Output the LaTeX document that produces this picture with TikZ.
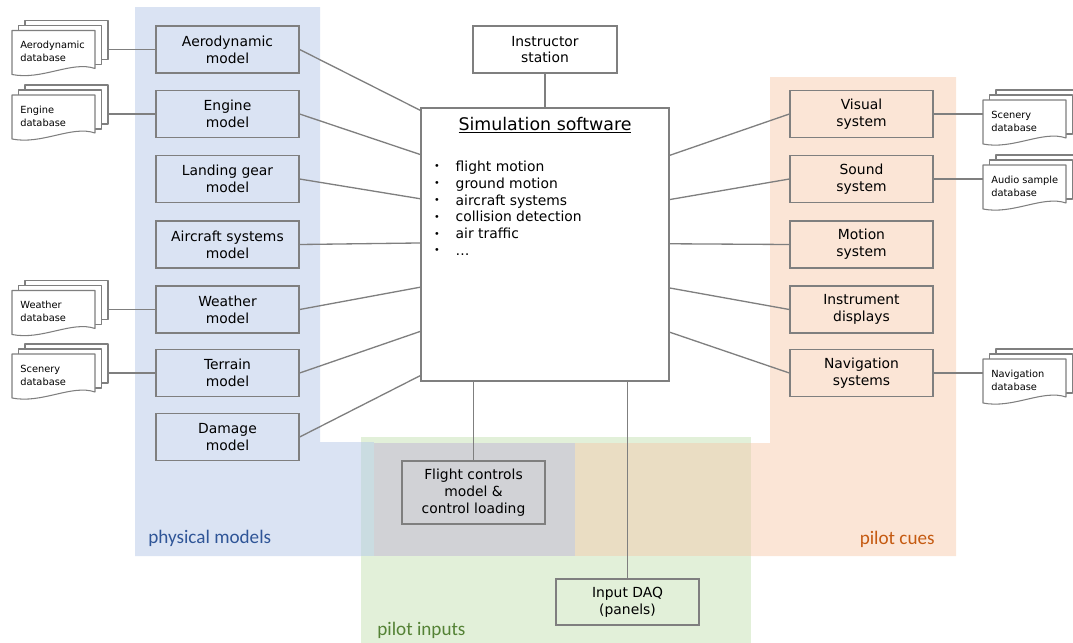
\documentclass[tikz,border=0pt]{standalone}
\usepackage{fontspec}
\setmainfont{DejaVu Sans}
\newfontfamily\labelfont{Carlito}
\usetikzlibrary{calc}

\definecolor{edgegray}{HTML}{7F7F7F}
\definecolor{physblue}{HTML}{DAE3F3}
\definecolor{cuepink}{HTML}{FBE5D6}
\definecolor{inpgreen}{HTML}{E2F0D9}
\definecolor{bluegreen}{HTML}{CADCE1}
\definecolor{allgray}{HTML}{D1D2D6}
\definecolor{pinkgreen}{HTML}{EADDC3}
\definecolor{physlabel}{HTML}{2F5597}
\definecolor{cuelabel}{HTML}{C55A11}
\definecolor{inplabel}{HTML}{548235}

\tikzset{
  block/.style={draw=edgegray, line width=0.75pt, minimum width=2.86cm, minimum height=0.94cm,
    align=center, inner sep=0pt, font=\fontsize{7.9}{9.6}\selectfont},
  link/.style={draw=edgegray, line width=0.75pt},
  sheet/.style={draw=edgegray, line width=0.6pt, fill=white, line join=round},
  dbtext/.style={anchor=west, align=left, inner sep=0pt, font=\fontsize{5.6}{7.4}\selectfont},
  region/.style={font=\labelfont\fontsize{10.9}{13}\selectfont, inner sep=0pt}
}

\def\bul{\makebox[0.46cm][l]{\hspace{0.03cm}\raisebox{0.12em}{\fontsize{5.5}{5.5}\selectfont\textbullet}}}
\def\dbstack#1(#2,#3)#4{%
  \draw[sheet] (#2+13,#3-10) rectangle (#2+96,#3+29);
  \draw[sheet] (#2+6.5,#3-5) rectangle (#2+89.5,#3+34);
  \draw[sheet] (#2,#3) -- (#2+83,#3) -- (#2+83,#3+38) .. controls (#2+60,#3+30) and (#2+30,#3+50) .. (#2,#3+44) -- cycle;
  \node[dbtext] (#1) at (#2+8,#3+21) {#4};
  \coordinate (#1-l) at (#2,#3+21);
  \coordinate (#1-r) at (#2+96,#3+21);}

\begin{document}
\begin{tikzpicture}[x=0.02cm, y=-0.02cm]
  %%%%% START %%%%%
  \useasboundingbox (0,0) rectangle (1073,643);
  \clip (0,0) rectangle (1073,643);

  % groups
  \fill[physblue] (135,7) -- (320,7) -- (320,442) -- (575,442) -- (575,556) -- (135,556) -- cycle;
  \fill[cuepink] (770,77) -- (956,77) -- (956,556) -- (374,556) -- (374,443) -- (770,443) -- cycle;
  \fill[inpgreen] (361,437) rectangle (751,643);
  \fill[bluegreen] (361,442) rectangle (374,556);
  \fill[allgray] (374,443) rectangle (575,556);
  \fill[pinkgreen] (575,443) rectangle (751,556);

  \node[region, text=physlabel, anchor=base west] (physlbl) at (148,543) {physical models};
  \node[region, text=cuelabel, anchor=base east] (cuelbl) at (935,544) {pilot cues};
  \node[region, text=inplabel, anchor=base west] (inplbl) at (377,635) {pilot inputs};

  % physical models
  \node[block] (aero) at (227.5,49.5) {Aerodynamic\\model};
  \node[block] (engine) at (227.5,114) {Engine\\model};
  \node[block] (gear) at (227.5,179) {Landing gear\\model};
  \node[block] (acsys) at (227.5,244.5) {Aircraft systems\\model};
  \node[block] (weather) at (227.5,309.5) {Weather\\model};
  \node[block] (terrain) at (227.5,373) {Terrain\\model};
  \node[block] (damage) at (227.5,437) {Damage\\model};

  % pilot cues
  \node[block] (visual) at (861.5,114) {Visual\\system};
  \node[block] (sound) at (861.5,179) {Sound\\system};
  \node[block] (motion) at (861.5,244.5) {Motion\\system};
  \node[block] (instr) at (861.5,309.5) {Instrument\\displays};
  \node[block] (nav) at (861.5,373) {Navigation\\systems};

  % centre
  \node[block, minimum width=4.96cm, minimum height=5.46cm] (sim) at (545,244.5) {};
  \node[font=\fontsize{9.9}{12}\selectfont, inner sep=0pt] (simtitle) at ($(sim.north)+(0,18)$) {\underline{Simulation software}};
  \node[anchor=north west, align=left, inner sep=0pt, font=\fontsize{7.9}{9.6}\selectfont] (simlist)
    at ($(sim.north west)+(12,53)$)
    {\bul flight motion\\\bul ground motion\\\bul aircraft systems\\\bul collision detection\\\bul air traffic\\\bul \dots};
  \node[block, minimum width=2.88cm] (instructor) at (545,49.5) {Instructor\\station};
  \node[block, minimum height=1.26cm] (fcm) at (473.5,492.5) {Flight controls\\model \&\\control loading};
  \node[block, minimum height=0.92cm] (daq) at (627.5,602) {Input DAQ\\(panels)};

  % links to the core
  \foreach \m [count=\i from 0] in {aero,engine,gear,acsys,weather,terrain,damage}
    \draw[link] (\m.east) -- ($(sim.north west)+(0,3+44.2*\i)$);
  \foreach \m [count=\i from 0] in {visual,sound,motion,instr,nav}
    \draw[link] (\m.west) -- ($(sim.north east)+(0,48+44.2*\i)$);
  \draw[link] (instructor) -- (sim);
  \draw[link] (fcm.north |- sim.south) -- (fcm.north);
  \draw[link] (daq.north |- sim.south) -- (daq.north);

  % databases
  \dbstack{aerodb}(12,30.5){Aerodynamic\\database}
  \dbstack{enginedb}(12,95){Engine\\database}
  \dbstack{weatherdb}(12,290.5){Weather\\database}
  \dbstack{scenerydbl}(12,354){Scenery\\database}
  \dbstack{scenerydbr}(983,100){Scenery\\database}
  \dbstack{audiodb}(983,165){Audio sample\\database}
  \dbstack{navdb}(983,359){Navigation\\database}

  \draw[link] (aerodb-r |- aero.west) -- (aero.west);
  \draw[link] (enginedb-r |- engine.west) -- (engine.west);
  \draw[link] (weatherdb-r |- weather.west) -- (weather.west);
  \draw[link] (scenerydbl-r |- terrain.west) -- (terrain.west);
  \draw[link] (visual.east) -- (scenerydbr-l |- visual.east);
  \draw[link] (sound.east) -- (audiodb-l |- sound.east);
  \draw[link] (nav.east) -- (navdb-l |- nav.east);
  %%%%% END %%%%%
\end{tikzpicture}
\end{document}
